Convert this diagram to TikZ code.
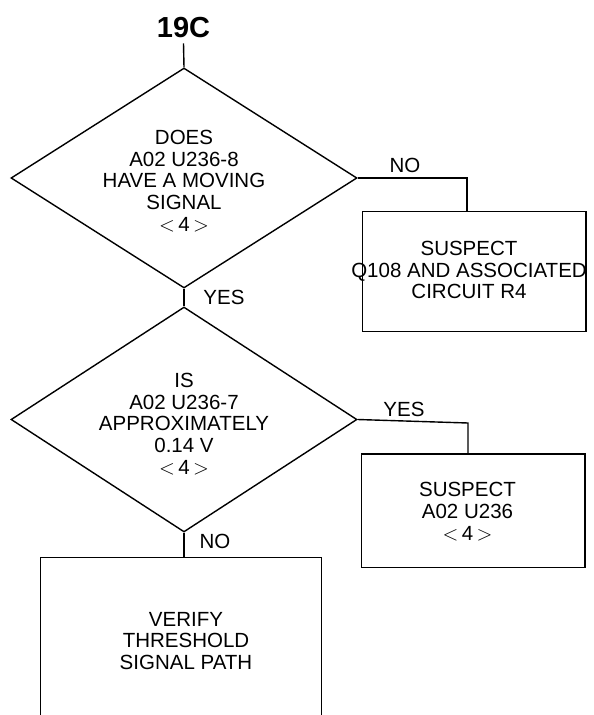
\documentclass[tikz,border=0pt]{standalone}
\usepackage{fontspec}
\setmainfont{Liberation Sans}
\usetikzlibrary{shapes.geometric}
\newcommand{\refnum}{$<$\,4\,$>$}
\begin{document}
\begin{tikzpicture}[x=1pt,y=-1pt, line width=1.4pt,
  dia/.style={draw, diamond, minimum width=346pt, inner sep=0pt},
  box/.style={draw, rectangle, inner sep=0pt},
  txt/.style={align=center, font=\fontsize{20.5}{21.7}\selectfont, inner sep=0pt},
  lbl/.style={font=\fontsize{20.5}{22}\selectfont, inner sep=0pt}]
\useasboundingbox (0,0) rectangle (594,715);
% title
\node[font=\bfseries\fontsize{29}{29}\selectfont, inner sep=0pt] (title) at (183.5,27.5) {19C};
% first decision
\node[dia, minimum height=220pt] (d1) at (184,178) {};
\node[txt] (d1t) at (184,181) {DOES\\A02 U236-8\\HAVE A MOVING\\SIGNAL\\\refnum};
\draw ([yshift=-5pt]title.south) -- (d1.north);
% box 1
\node[box, minimum width=223.3pt, minimum height=120pt] (b1) at (474.3,271.7) {};
\node[txt] (b1t) at (469,270) {SUSPECT\\Q108 AND ASSOCIATED\\CIRCUIT R4};
\coordinate (c1) at (467,178);
\draw (d1.east) -- (c1) -- (c1 |- b1.north);
\node[lbl] (l0) at (405,165) {NO};
% second decision
\node[dia, minimum height=225pt] (d2) at (184,419.5) {};
\node[txt] (d2t) at (184,424) {IS\\A02 U236-7\\APPROXIMATELY\\0.14 V\\\refnum};
\draw (d1.south) -- (d2.north);
\node[lbl] (l1) at (224,297) {YES};
% box 2
\node[box, minimum width=223.3pt, minimum height=113.7pt] (b2) at (473.4,510.8) {};
\node[txt] (b2t) at (467.5,511.5) {SUSPECT\\A02 U236\\\refnum};
\coordinate (c2) at (468,423);
\draw (d2.east) -- (c2) -- (c2 |- b2.north);
\node[lbl] (l2) at (404,409) {YES};
% box 3 (open at bottom)
\node[minimum width=280pt, minimum height=158pt, inner sep=0pt] (b3) at (181,637) {};
\draw (b3.south west) -- (b3.north west) -- (b3.north east) -- (b3.south east);
\node[txt] (b3t) at (186,641) {VERIFY\\THRESHOLD\\SIGNAL PATH};
\draw (d2.south) -- (d2.south |- b3.north);
\node[lbl] (l3) at (215,541.5) {NO};
\end{tikzpicture}
\end{document}
